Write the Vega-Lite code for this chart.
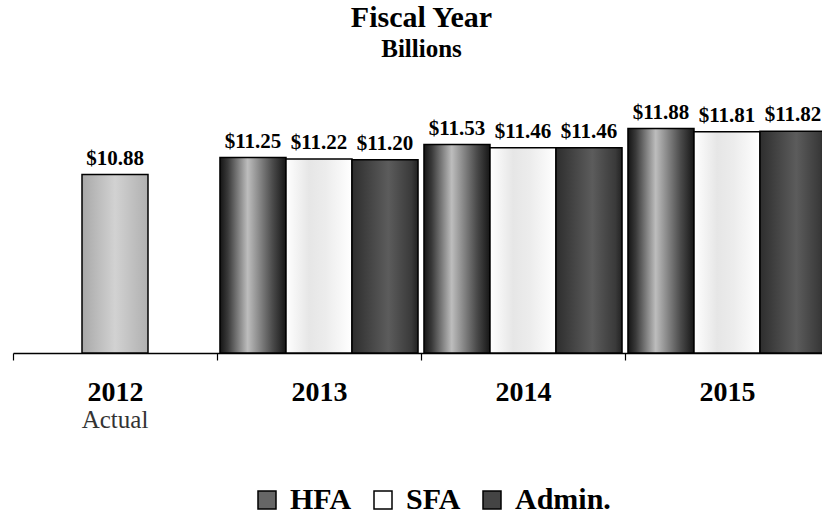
{
  "$schema": "https://vega.github.io/schema/vega-lite/v6.json",
  "autosize": "none",
  "width": 809,
  "height": 230,
  "padding": {"left": 13, "top": 123, "right": 0, "bottom": 161},
  "background": "white",
  "config": {"view": {"stroke": null}, "font": "Liberation Serif"},
  "title": {
    "text": "Fiscal Year",
    "subtitle": "Billions",
    "anchor": "middle",
    "frame": "group",
    "font": "Liberation Serif",
    "fontSize": 30,
    "fontWeight": "bold",
    "color": "black",
    "subtitleFont": "Liberation Serif",
    "subtitleFontSize": 25,
    "subtitleFontWeight": "bold",
    "subtitleColor": "black",
    "subtitlePadding": 4,
    "offset": 40,
    "dx": 4
  },
  "data": {
    "values": [
      {"year": "2012", "series": "Actual", "value": 10.88},
      {"year": "2013", "series": "HFA", "value": 11.25},
      {"year": "2013", "series": "SFA", "value": 11.22},
      {"year": "2013", "series": "Admin.", "value": 11.20},
      {"year": "2014", "series": "HFA", "value": 11.53},
      {"year": "2014", "series": "SFA", "value": 11.46},
      {"year": "2014", "series": "Admin.", "value": 11.46},
      {"year": "2015", "series": "HFA", "value": 11.88},
      {"year": "2015", "series": "SFA", "value": 11.81},
      {"year": "2015", "series": "Admin.", "value": 11.82}
    ]
  },
  "resolve": {"axis": {"x": "independent"}},
  "layer": [
    {
      "transform": [{"filter": "datum.series === 'Actual'"}],
      "mark": {
        "type": "bar",
        "width": {"band": 0.3235},
        "stroke": "black",
        "strokeWidth": 1.5,
        "fill": {"gradient": "linear", "x1": 0, "y1": 0, "x2": 1, "y2": 0,
          "stops": [{"offset": 0, "color": "#a8a8a8"}, {"offset": 0.5, "color": "#d2d2d2"}, {"offset": 1, "color": "#b0b0b0"}]}
      },
      "encoding": {
        "x": {
          "field": "year", "type": "nominal",
          "scale": {"range": [0, 816], "paddingInner": 0, "paddingOuter": 0},
          "axis": {
            "orient": "bottom",
            "title": null,
            "labelExpr": "datum.value === '2012' ? 'Actual' : ''",
            "labelAngle": 0,
            "labelFont": "Liberation Serif",
            "labelFontSize": 25,
            "labelFontWeight": "normal",
            "labelColor": "#333333",
            "labelPadding": 54,
            "ticks": false,
            "tickSize": 0,
            "domain": false,
            "grid": false
          }
        },
        "y": {
          "field": "value", "type": "quantitative",
          "scale": {"domain": [7, 12], "zero": false, "nice": false, "clamp": true},
          "axis": null
        }
      }
    },
    {
      "transform": [{"filter": "datum.series !== 'Actual'"}],
      "mark": {"type": "bar", "stroke": "black", "strokeWidth": 1.5},
      "encoding": {
        "x": {
          "field": "year", "type": "nominal",
          "axis": {
            "orient": "bottom",
            "title": null,
            "labelAngle": 0,
            "labelFont": "Liberation Serif",
            "labelFontSize": 28,
            "labelFontWeight": "bold",
            "labelColor": "black",
            "labelPadding": 18,
            "tickBand": "extent",
            "tickSize": 7,
            "tickColor": "black",
            "tickWidth": 1.2,
            "domainColor": "black",
            "domainWidth": 1.5,
            "grid": false
          }
        },
        "xOffset": {
          "field": "series", "type": "nominal",
          "scale": {"domain": ["HFA", "SFA", "Admin."], "paddingInner": 0, "paddingOuter": 0.045}
        },
        "y": {"field": "value", "type": "quantitative", "axis": null},
        "fill": {
          "field": "series", "type": "nominal",
          "scale": {"domain": ["HFA", "SFA", "Admin."], "range": ["#666666", "#ffffff", "#444444"]},
          "condition": [
            {"test": "datum.series === 'HFA'", "value": {"gradient": "linear", "x1": 0, "y1": 0, "x2": 1, "y2": 0,
              "stops": [{"offset": 0, "color": "#141414"}, {"offset": 0.12, "color": "#3a3a3a"}, {"offset": 0.42, "color": "#bdbdbd"}, {"offset": 0.8, "color": "#4a4a4a"}, {"offset": 1, "color": "#161616"}]}},
            {"test": "datum.series === 'SFA'", "value": {"gradient": "linear", "x1": 0, "y1": 0, "x2": 1, "y2": 0,
              "stops": [{"offset": 0, "color": "#ffffff"}, {"offset": 0.35, "color": "#e6e6e6"}, {"offset": 0.6, "color": "#ececec"}, {"offset": 1, "color": "#ffffff"}]}},
            {"test": "datum.series === 'Admin.'", "value": {"gradient": "linear", "x1": 0, "y1": 0, "x2": 1, "y2": 0,
              "stops": [{"offset": 0, "color": "#2e2e2e"}, {"offset": 0.55, "color": "#5c5c5c"}, {"offset": 0.9, "color": "#3a3a3a"}, {"offset": 1, "color": "#222222"}]}}
          ],
          "legend": {
            "title": null,
            "orient": "none",
            "direction": "horizontal",
            "legendX": 239,
            "legendY": 362,
            "symbolType": "square",
            "symbolSize": 324,
            "symbolStrokeColor": "black",
            "symbolStrokeWidth": 1.5,
            "labelFont": "Liberation Serif",
            "labelFontSize": 30,
            "labelFontWeight": "bold",
            "labelColor": "black",
            "labelOffset": 8,
            "columnPadding": 16,
            "encode": {
              "symbols": {
                "update": {
                  "fill": [
                    {"test": "datum.value === 'HFA'", "value": {"gradient": "linear", "x1": 0, "y1": 0, "x2": 1, "y2": 0,
                      "stops": [{"offset": 0, "color": "#222222"}, {"offset": 0.45, "color": "#b5b5b5"}, {"offset": 1, "color": "#222222"}]}},
                    {"test": "datum.value === 'SFA'", "value": "#ffffff"},
                    {"value": "#555555"}
                  ],
                  "stroke": {"value": "black"}
                }
              }
            }
          }
        }
      }
    },
    {
      "transform": [{"filter": "datum.series === 'Actual'"}],
      "mark": {"type": "text", "baseline": "alphabetic", "dy": -10, "font": "Liberation Serif", "fontSize": 21, "fontWeight": "bold", "color": "black"},
      "encoding": {
        "x": {"field": "year", "type": "nominal", "axis": null},
        "y": {"field": "value", "type": "quantitative", "axis": null},
        "text": {"field": "value", "type": "quantitative", "format": "$.2f"}
      }
    },
    {
      "transform": [{"filter": "datum.series !== 'Actual'"}],
      "mark": {"type": "text", "baseline": "alphabetic", "dy": -10, "font": "Liberation Serif", "fontSize": 21, "fontWeight": "bold", "color": "black"},
      "encoding": {
        "x": {"field": "year", "type": "nominal", "axis": null},
        "xOffset": {"field": "series", "type": "nominal"},
        "y": {"field": "value", "type": "quantitative", "axis": null},
        "text": {"field": "value", "type": "quantitative", "format": "$.2f"}
      }
    }
  ]
}
